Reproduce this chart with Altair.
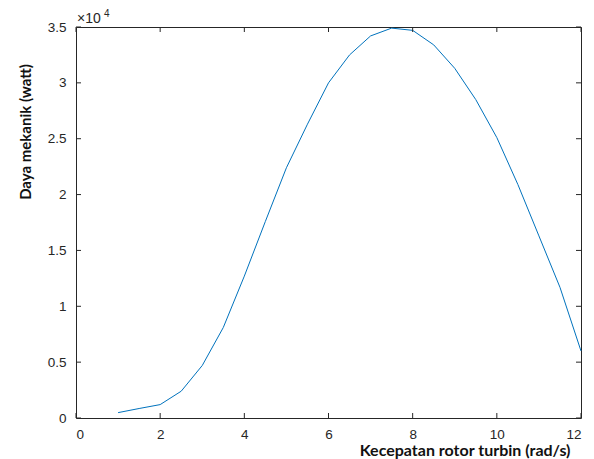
import altair as alt
import pandas as pd

# Data
speed = [1, 1.5, 2, 2.5, 3, 3.5, 4, 4.5, 5, 5.5, 6, 6.5, 7, 7.5, 8, 8.5, 9, 9.5, 10, 10.5, 11, 11.5, 12]
power = [480, 850, 1200, 2400, 4700, 8100, 12700, 17600, 22400, 26300, 30000, 32500, 34200, 34900,
         34700, 33400, 31300, 28500, 25100, 20900, 16300, 11700, 6000]

x_ticks = [0, 2, 4, 6, 8, 10, 12]
y_ticks = [0, 5000, 10000, 15000, 20000, 25000, 30000, 35000]

x_title = "Kecepatan rotor turbin (rad/s)"
y_title = "Daya mekanik (watt)"

W, H = 505, 391
TICK = 5
AXIS_COLOR = "#262626"
LABEL_FONT = "Liberation Sans"
TITLE_FONT = "Lato"

df = pd.DataFrame({"speed": speed, "power": power})
xt = pd.DataFrame({"v": x_ticks})
yt = pd.DataFrame({"v": y_ticks})

xscale = alt.Scale(domain=[0, 12], nice=False, zero=False)
yscale = alt.Scale(domain=[0, 35000], nice=False, zero=False)

line = alt.Chart(df).mark_line(color="#0072BD", strokeWidth=1).encode(
    x=alt.X("speed:Q", scale=xscale,
            axis=alt.Axis(values=x_ticks, ticks=False, domain=False, grid=False,
                          labelFont=LABEL_FONT, labelFontSize=13.5, labelColor=AXIS_COLOR,
                          labelPadding=9, title=x_title, titleFont=TITLE_FONT,
                          titleFontSize=16, titleFontWeight="bold", titleColor="#111111",
                          titleAlign="right", titleAnchor="end", titleX=494, titleY=37,
                          titleBaseline="alphabetic")),
    y=alt.Y("power:Q", scale=yscale,
            axis=alt.Axis(values=y_ticks, ticks=False, domain=False, grid=False,
                          labelExpr="datum.value / 10000",
                          labelFont=LABEL_FONT, labelFontSize=13.5, labelColor=AXIS_COLOR,
                          labelPadding=10, title=y_title, titleFont=TITLE_FONT,
                          titleFontSize=15, titleFontWeight="bold", titleColor="#111111",
                          titleAngle=-90, titleAlign="center", titleX=-46, titleY=104.5,
                          titleBaseline="alphabetic")),
)

tick_style = dict(color=AXIS_COLOR, strokeWidth=1)

bottom_ticks = alt.Chart(xt).mark_rule(**tick_style).encode(
    x=alt.X("v:Q", scale=xscale), y=alt.value(H), y2=alt.value(H - TICK))
top_ticks = alt.Chart(xt).mark_rule(**tick_style).encode(
    x=alt.X("v:Q", scale=xscale), y=alt.value(0), y2=alt.value(TICK))
left_ticks = alt.Chart(yt).mark_rule(**tick_style).encode(
    y=alt.Y("v:Q", scale=yscale), x=alt.value(0), x2=alt.value(TICK))
right_ticks = alt.Chart(yt).mark_rule(**tick_style).encode(
    y=alt.Y("v:Q", scale=yscale), x=alt.value(W - TICK), x2=alt.value(W))

exp_base = alt.Chart(pd.DataFrame({"t": ["\u00d710"]})).mark_text(
    font=LABEL_FONT, fontSize=14, color=AXIS_COLOR, align="left", baseline="alphabetic"
).encode(text="t:N", x=alt.value(1), y=alt.value(-4))
exp_pow = alt.Chart(pd.DataFrame({"t": ["4"]})).mark_text(
    font=LABEL_FONT, fontSize=10, color=AXIS_COLOR, align="left", baseline="alphabetic"
).encode(text="t:N", x=alt.value(28), y=alt.value(-10))

chart = alt.layer(
    line, bottom_ticks, top_ticks, left_ticks, right_ticks, exp_base, exp_pow
).properties(
    width=W, height=H,
    autosize=alt.AutoSizeParams(type="none"),
    padding={"left": 68, "top": 19, "right": 5, "bottom": 41},
    background="white",
).configure_view(stroke=AXIS_COLOR, strokeWidth=1)

chart.save("out.html", embed_options={"renderer": "svg", "actions": False})
